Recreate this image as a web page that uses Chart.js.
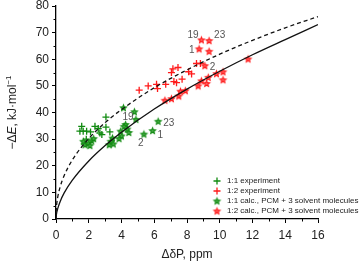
<!DOCTYPE html>
<html>
<head>
<meta charset="utf-8">
<script src="https://cdn.jsdelivr.net/npm/chart.js@4/dist/chart.umd.min.js"></script>
<style>
  html, body { margin: 0; padding: 0; background: #fff; }
  #wrap { width: 360px; height: 262px; }
</style>
</head>
<body>
<div id="wrap"><canvas id="c" width="360" height="262"></canvas></div>
<script>
// 1:1 experiment (green crosses)
var exp11X = [1.57, 1.46, 1.66, 1.87, 2.11, 2.38, 2.58, 2.68, 2.8, 3.05, 3.05, 3.29, 1.85];
var exp11Y = [34.8, 33.0, 33.0, 33.0, 32.7, 34.8, 34.0, 32.3, 31.7, 38.3, 34.5, 32.7, 30.0];

// 1:2 experiment (red crosses)
var exp12X = [5.08, 5.63, 6.14, 6.2, 6.7, 7.05, 7.14, 7.45, 7.2, 7.36, 7.7, 8.1, 8.28, 8.58, 8.82];
var exp12Y = [48.4, 50.0, 50.6, 49.0, 50.6, 55.0, 56.4, 56.9, 51.6, 51.2, 52.5, 55.3, 54.5, 58.4, 58.4];

// 1:1 calc (green stars)
var calc11X = [4.12, 4.79, 4.88, 4.25, 4.15, 4.35, 4.45, 3.95, 4.0, 3.85, 3.45, 3.35, 3.25, 3.5, 1.67, 1.77, 1.97, 2.18, 2.3, 2.07, 5.9, 5.37, 6.24];
var calc11Y = [41.8, 40.3, 37.4, 35.5, 34.8, 33.8, 32.5, 33.0, 31.2, 30.2, 30.4, 29.2, 27.9, 28.2, 29.2, 27.9, 28.5, 29.4, 30.2, 27.6, 33.2, 31.9, 36.7];
var calc11Lab = ['19', '', '', '', '', '', '', '', '', '', '', '', '', '', '', '', '', '', '', '', '1', '2', '23'];

// 1:2 calc (red stars)
var calc12X = [8.88, 9.35, 8.74, 9.35, 9.09, 6.65, 7.05, 7.5, 7.6, 7.9, 8.68, 8.88, 9.2, 9.3, 9.8, 10.2, 10.2, 11.73];
var calc12Y = [67.3, 67.0, 63.9, 63.0, 57.6, 44.6, 45.2, 46.2, 48.0, 48.2, 50.0, 51.9, 50.9, 53.2, 54.6, 55.3, 52.3, 60.1];
var calc12Lab = ['19', '23', '1', '', '2', '', '', '', '', '', '', '', '', '', '', '', '', ''];

// fitted curves
var curveX = [0, 0.01, 0.05, 0.1, 0.25, 0.5, 1, 2, 3, 4, 6, 8, 10, 12, 14, 16];
var solidY = [0, 1.0, 2.6, 3.8, 6.5, 9.8, 14.6, 21.8, 27.6, 32.6, 41.3, 48.8, 55.5, 61.7, 67.4, 73.0];
var dashY = [0, 2.9, 5.9, 8.0, 12.0, 16.3, 22.2, 30.2, 36.2, 41.1, 49.3, 56.0, 61.9, 67.1, 71.8, 76.0];

var xTicks = [0, 2, 4, 6, 8, 10, 12, 14, 16];
var yTicks = [0, 10, 20, 30, 40, 50, 60, 70, 80];

var GREEN = '#108a10';
var RED = '#ff1a1a';
var FONT = "'Liberation Sans', Arial, sans-serif";

function pts(xs, ys) {
  var out = [];
  for (var i = 0; i < xs.length; i++) out.push({x: xs[i], y: ys[i]});
  return out;
}

function makeStar(stroke, fill, r) {
  var size = Math.ceil(r * 2 + 4);
  var c = document.createElement('canvas');
  c.width = size; c.height = size;
  var g = c.getContext('2d');
  var cx = size / 2, cy = size / 2 + 0.3;
  g.beginPath();
  for (var i = 0; i < 10; i++) {
    var rr = (i % 2 == 0) ? r : r * 0.45;
    var a = -Math.PI / 2 + i * Math.PI / 5;
    var px = cx + rr * Math.cos(a), py = cy + rr * Math.sin(a);
    if (i == 0) g.moveTo(px, py); else g.lineTo(px, py);
  }
  g.closePath();
  g.fillStyle = fill;
  g.fill();
  g.lineWidth = 1.1;
  g.strokeStyle = stroke;
  g.stroke();
  return c;
}

var starGreen = makeStar(GREEN, '#4fae4f', 3.1);
var starRed = makeStar(RED, '#ff6a6a', 3.1);

// label offsets for numbered points
var labOff11 = {'19': [-1, 10], '1': [5, 5], '2': [-6, 9], '23': [5, 2]};
var labOff12 = {'19': [-14, -5], '23': [5, -5], '1': [-10, 1], '2': [5, 2]};

var extras = {
  id: 'extras',
  afterDraw: function(chart) {
    var ctx = chart.ctx;
    var xs = chart.scales.x, ys = chart.scales.y;
    var area = chart.chartArea;
    ctx.save();
    // minor ticks
    ctx.strokeStyle = '#000';
    ctx.lineWidth = 1;
    for (var v = 1; v < 16; v += 2) {
      var px = Math.round(xs.getPixelForValue(v)) + 0.5;
      ctx.beginPath(); ctx.moveTo(px, area.bottom); ctx.lineTo(px, area.bottom + 2.5); ctx.stroke();
    }
    for (var w = 5; w < 80; w += 10) {
      var py = Math.round(ys.getPixelForValue(w)) + 0.5;
      ctx.beginPath(); ctx.moveTo(area.left, py); ctx.lineTo(area.left - 2.5, py); ctx.stroke();
    }
    // point labels
    ctx.fillStyle = '#555';
    ctx.font = '10px ' + FONT;
    ctx.textBaseline = 'middle';
    ctx.textAlign = 'left';
    for (var i = 0; i < calc11Lab.length; i++) {
      if (!calc11Lab[i]) continue;
      var o = labOff11[calc11Lab[i]];
      ctx.fillText(calc11Lab[i], xs.getPixelForValue(calc11X[i]) + o[0], ys.getPixelForValue(calc11Y[i]) + o[1]);
    }
    for (var j = 0; j < calc12Lab.length; j++) {
      if (!calc12Lab[j]) continue;
      var q = labOff12[calc12Lab[j]];
      ctx.fillText(calc12Lab[j], xs.getPixelForValue(calc12X[j]) + q[0], ys.getPixelForValue(calc12Y[j]) + q[1]);
    }
    // legend
    var names = ['1:1 experiment', '1:2 experiment', '1:1 calc., PCM + 3 solvent molecules', '1:2 calc., PCM + 3 solvent molecules'];
    var lx = 217, ly = 181;
    ctx.font = '8px ' + FONT;
    ctx.fillStyle = '#222';
    for (var k = 0; k < 4; k++) {
      var yy = ly + k * 10;
      if (k < 2) {
        ctx.strokeStyle = k == 0 ? GREEN : RED;
        ctx.lineWidth = 1.3;
        ctx.beginPath();
        ctx.moveTo(lx - 3.5, yy); ctx.lineTo(lx + 3.5, yy);
        ctx.moveTo(lx, yy - 3.5); ctx.lineTo(lx, yy + 3.5);
        ctx.stroke();
      } else {
        var s = k == 2 ? starGreen : starRed;
        ctx.drawImage(s, lx - s.width / 2, yy - s.height / 2);
      }
      ctx.fillText(names[k], lx + 10, yy);
    }
    // y axis title with italic E
    ctx.translate(13, (area.top + area.bottom) / 2);
    ctx.rotate(-Math.PI / 2);
    ctx.fillStyle = '#222';
    var parts = [['\u2212\u0394', '12px ' + FONT, 0], ['E', 'italic 12px ' + FONT, 0], [', kJ\u00b7mol', '12px ' + FONT, 0], ['\u22121', '8px ' + FONT, -4]];
    var total = 0;
    for (var m = 0; m < parts.length; m++) { ctx.font = parts[m][1]; total += ctx.measureText(parts[m][0]).width; }
    var cx = -total / 2;
    ctx.textAlign = 'left';
    for (var n = 0; n < parts.length; n++) {
      ctx.font = parts[n][1];
      ctx.fillText(parts[n][0], cx, parts[n][2]);
      cx += ctx.measureText(parts[n][0]).width;
    }
    ctx.restore();
  }
};

new Chart(document.getElementById('c'), {
  type: 'scatter',
  data: {
    datasets: [
      {data: pts(curveX, solidY), showLine: true, borderColor: '#111', borderWidth: 1.3, pointRadius: 0, cubicInterpolationMode: 'monotone', fill: false},
      {data: pts(curveX, dashY), showLine: true, borderColor: '#111', borderWidth: 1.3, borderDash: [4, 3], pointRadius: 0, cubicInterpolationMode: 'monotone', fill: false},
      {data: pts(exp11X, exp11Y), pointStyle: 'cross', pointRadius: 3.5, borderColor: GREEN, borderWidth: 1.3},
      {data: pts(exp12X, exp12Y), pointStyle: 'cross', pointRadius: 3.5, borderColor: RED, borderWidth: 1.3},
      {data: pts(calc11X, calc11Y), pointStyle: starGreen, pointRadius: 4},
      {data: pts(calc12X, calc12Y), pointStyle: starRed, pointRadius: 4}
    ]
  },
  options: {
    responsive: false,
    animation: false,
    events: [],
    layout: {padding: {top: 6, right: 42, bottom: 0, left: 0}},
    plugins: {legend: {display: false}, tooltip: {enabled: false}},
    scales: {
      x: {
        type: 'linear', min: 0, max: 16,
        afterBuildTicks: function(s) { s.ticks = xTicks.map(function(v) { return {value: v}; }); },
        afterFit: function(s) { s.height = 43; s.paddingLeft = 0; s.paddingRight = 0; },
        border: {color: '#000', width: 1.3},
        grid: {drawOnChartArea: false, drawTicks: true, tickLength: 4, color: '#000'},
        ticks: {color: '#222', font: {family: FONT, size: 12}, padding: 5, maxRotation: 0},
        title: {display: true, text: '\u0394\u03b4P, ppm', color: '#222', font: {family: FONT, size: 12}, padding: {top: 8, bottom: 0}}
      },
      y: {
        type: 'linear', min: 0, max: 80,
        afterBuildTicks: function(s) { s.ticks = yTicks.map(function(v) { return {value: v}; }); },
        afterFit: function(s) { s.width = 56; s.paddingTop = 0; s.paddingBottom = 0; },
        border: {color: '#000', width: 1.3},
        grid: {drawOnChartArea: false, drawTicks: true, tickLength: 4, color: '#000'},
        ticks: {color: '#222', font: {family: FONT, size: 12}, padding: 3}
      }
    }
  },
  plugins: [extras]
});
</script>
</body>
</html>
